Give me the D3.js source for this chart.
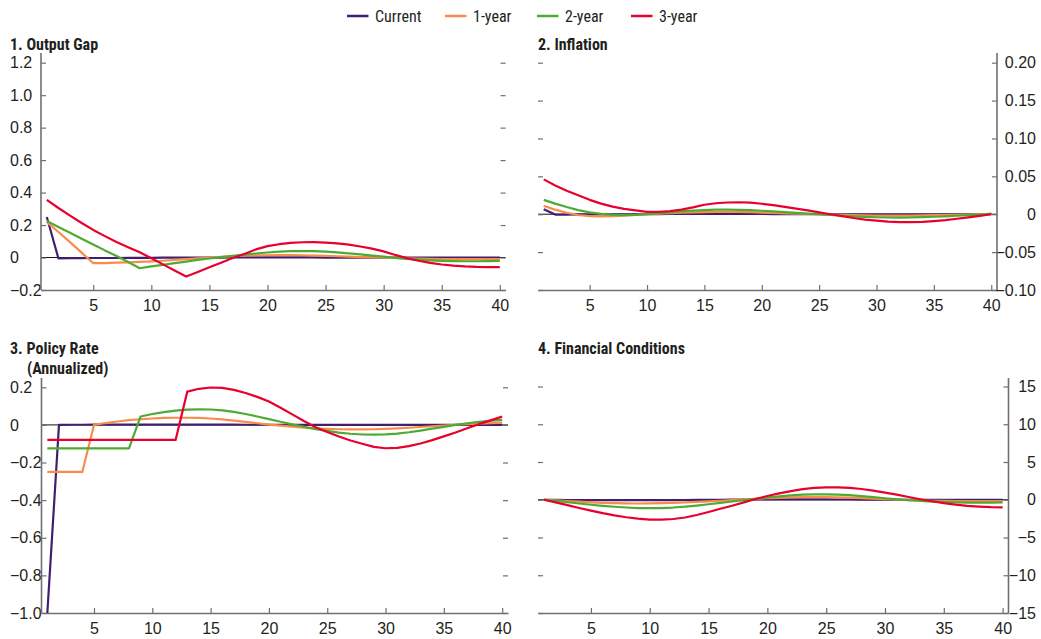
<!DOCTYPE html>
<html><head><meta charset="utf-8">
<script src="https://cdn.jsdelivr.net/npm/d3@7"></script>
<style>
body{margin:0;background:#fff;}
svg{display:block;font-family:"Liberation Sans Narrow","Arial Narrow","Roboto Condensed","Liberation Sans",Arial,sans-serif;}
</style></head><body>
<svg id="chart" width="1041" height="639"></svg>
<script>
// ---------- DATA ----------
const quarters = [1,2,3,4,5,6,7,8,9,10,11,12,13,14,15,16,17,18,19,20,
                  21,22,23,24,25,26,27,28,29,30,31,32,33,34,35,36,37,38,39,40];
const seriesNames = ["Current","1-year","2-year","3-year"];
const seriesColors = ["#40206e","#f98c4a","#4dab34","#e8002f"];
const xTickValues = [5,10,15,20,25,30,35,40];

// 1. Output Gap
const gapCurrent = [0.25,-0.005,-0.004,-0.004,-0.003,-0.003,-0.003,-0.002,-0.002,-0.002,
  -0.001,-0.001,-0.001,0,0,0,0.001,0.001,0.001,0.001,
  0.001,0.001,0.001,0.001,0,0,0,0,0,0,
  0,0,0,0,0,0,0,0,0,0];
const gap1y = [0.22,0.157,0.095,0.03,-0.035,-0.034,-0.032,-0.03,-0.027,-0.024,
  -0.02,-0.015,-0.01,-0.005,0,0.004,0.008,0.011,0.013,0.014,
  0.015,0.015,0.014,0.012,0.01,0.008,0.005,0.003,0.001,-0.001,
  -0.003,-0.005,-0.007,-0.008,-0.009,-0.01,-0.01,-0.01,-0.01,-0.01];
const gap2y = [0.225,0.188,0.152,0.116,0.08,0.044,0.01,-0.028,-0.066,-0.055,
  -0.045,-0.035,-0.025,-0.015,-0.006,0.003,0.011,0.018,0.025,0.031,
  0.036,0.039,0.04,0.039,0.036,0.032,0.026,0.019,0.012,0.005,
  -0.002,-0.008,-0.013,-0.017,-0.02,-0.022,-0.023,-0.023,-0.022,-0.021];
const gap3y = [0.355,0.305,0.258,0.213,0.17,0.132,0.096,0.064,0.032,-0.004,
  -0.042,-0.08,-0.117,-0.089,-0.06,-0.032,-0.003,0.022,0.05,0.07,
  0.082,0.09,0.094,0.095,0.092,0.087,0.079,0.068,0.055,0.038,
  0.016,-0.004,-0.02,-0.033,-0.043,-0.05,-0.055,-0.058,-0.059,-0.059];
const gapTicks = [-0.2,0,0.2,0.4,0.6,0.8,1.0,1.2];
const gapTickLabels = ["\u22120.2","0","0.2","0.4","0.6","0.8","1.0","1.2"];

// 2. Inflation
const infCurrent = [0.0065,-0.0005,-0.0004,-0.0003,-0.0002,-0.0001,0,0,0,0,
  0.0002,0.0003,0.0004,0.0005,0.0005,0.0005,0.0005,0.0004,0.0004,0.0003,
  0.0002,0.0001,0,0,0,-0.0001,-0.0001,-0.0002,-0.0002,-0.0002,
  -0.0002,-0.0002,-0.0002,-0.0001,-0.0001,-0.0001,0,0,0,0];
const inf1y = [0.011,0.006,0.002,-0.001,-0.0025,-0.0028,-0.0025,-0.0018,-0.001,0,
  0.0008,0.0015,0.002,0.0025,0.0028,0.003,0.003,0.003,0.0027,0.0022,
  0.0017,0.0012,0.0007,0.0003,0,-0.0004,-0.0008,-0.0012,-0.0015,-0.0017,
  -0.0018,-0.0018,-0.0017,-0.0015,-0.0013,-0.001,-0.0007,-0.0004,-0.0002,0];
const inf2y = [0.019,0.014,0.0095,0.0055,0.0025,0.0005,-0.0008,-0.0012,-0.001,0,
  0.001,0.0025,0.0038,0.0048,0.0055,0.006,0.006,0.0058,0.0053,0.0046,
  0.0038,0.0028,0.0018,0.0008,0,-0.001,-0.002,-0.0028,-0.0035,-0.004,
  -0.0043,-0.0044,-0.0042,-0.0038,-0.0033,-0.0027,-0.002,-0.0012,-0.0004,0.001];
const inf3y = [0.046,0.038,0.031,0.025,0.019,0.014,0.01,0.007,0.005,0.003,
  0.003,0.004,0.006,0.009,0.0125,0.0145,0.0155,0.0158,0.0152,0.0138,
  0.012,0.0098,0.0075,0.005,0.0025,0,-0.0025,-0.005,-0.007,-0.0085,
  -0.0097,-0.0103,-0.0105,-0.01,-0.009,-0.0077,-0.006,-0.0042,-0.0022,0];
const infTicks = [-0.10,-0.05,0,0.05,0.10,0.15,0.20];
const infTickLabels = ["\u22120.10","\u22120.05","0","0.05","0.10","0.15","0.20"];

// 3. Policy Rate (Annualized)
const rateCurrent = [-1.0,0,0.001,0.001,0.002,0.002,0.002,0.002,0.002,0.002,
  0.002,0.002,0.002,0.002,0.002,0.002,0.002,0.001,0.001,0.001,
  0.001,0,0,0,0,0,0,0,0,0,
  0,0,0,0,0,0,0,0,0,0];
const rate1y = [-0.25,-0.25,-0.25,-0.25,0,0.01,0.018,0.025,0.03,0.034,
  0.037,0.038,0.038,0.037,0.034,0.029,0.023,0.016,0.009,0.002,
  -0.004,-0.009,-0.014,-0.018,-0.021,-0.023,-0.024,-0.024,-0.023,-0.021,
  -0.018,-0.015,-0.011,-0.007,-0.003,0.001,0.004,0.007,0.01,0.012];
const rate2y = [-0.125,-0.125,-0.125,-0.125,-0.125,-0.125,-0.125,-0.125,0.045,0.058,
  0.068,0.076,0.081,0.083,0.082,0.077,0.069,0.058,0.045,0.031,
  0.017,0.003,-0.01,-0.022,-0.032,-0.041,-0.047,-0.051,-0.052,-0.05,
  -0.046,-0.039,-0.03,-0.02,-0.01,0,0.009,0.016,0.022,0.027];
const rate3y = [-0.08,-0.08,-0.08,-0.08,-0.08,-0.08,-0.08,-0.08,-0.08,-0.08,
  -0.08,-0.08,0.177,0.192,0.199,0.197,0.186,0.17,0.149,0.124,
  0.091,0.056,0.021,-0.012,-0.038,-0.062,-0.083,-0.1,-0.117,-0.124,
  -0.122,-0.113,-0.099,-0.081,-0.061,-0.04,-0.018,0.004,0.024,0.044];
const rateTicks = [-1.0,-0.8,-0.6,-0.4,-0.2,0,0.2];
const rateTickLabels = ["\u22121.0","\u22120.8","\u22120.6","\u22120.4","\u22120.2","0","0.2"];

// 4. Financial Conditions
const finCurrent = [0,-0.02,-0.03,-0.04,-0.05,-0.05,-0.05,-0.05,-0.05,-0.05,
  -0.05,-0.04,-0.03,-0.02,-0.01,0,0.01,0.02,0.03,0.03,
  0.04,0.04,0.04,0.04,0.04,0.03,0.03,0.02,0.01,0,
  -0.01,-0.01,-0.02,-0.02,-0.02,-0.02,-0.02,-0.02,-0.02,-0.02];
const fin1y = [0,-0.08,-0.17,-0.26,-0.34,-0.41,-0.46,-0.49,-0.5,-0.49,
  -0.46,-0.42,-0.36,-0.29,-0.21,-0.13,-0.04,0.04,0.12,0.2,
  0.26,0.31,0.34,0.35,0.34,0.31,0.27,0.21,0.15,0.08,
  0.02,-0.04,-0.09,-0.13,-0.16,-0.18,-0.19,-0.19,-0.19,-0.18];
const fin2y = [0,-0.15,-0.32,-0.5,-0.66,-0.8,-0.93,-1.03,-1.1,-1.12,
  -1.1,-1.03,-0.92,-0.77,-0.6,-0.42,-0.23,-0.05,0.13,0.3,
  0.45,0.58,0.67,0.72,0.72,0.68,0.6,0.48,0.35,0.2,
  0.06,-0.06,-0.16,-0.25,-0.31,-0.35,-0.37,-0.38,-0.37,-0.36];
const fin3y = [0,-0.35,-0.72,-1.1,-1.45,-1.78,-2.07,-2.32,-2.5,-2.62,
  -2.64,-2.55,-2.35,-2.02,-1.62,-1.2,-0.8,-0.35,0.1,0.5,
  0.85,1.15,1.4,1.57,1.65,1.65,1.57,1.42,1.2,0.95,
  0.67,0.37,0.07,-0.2,-0.45,-0.65,-0.8,-0.9,-0.97,-1.0];
const finTicks = [-15,-10,-5,0,5,10,15];
const finTickLabels = ["\u221215","\u221210","\u22125","0","5","10","15"];

// ---------- LAYOUT ----------
const panels = [
  {title:["1. Output Gap"], series:[gapCurrent,gap1y,gap2y,gap3y], domain:[-0.2,1.2],
   ticks:gapTicks, labels:gapTickLabels, side:"left",
   x0:41, x1:505.6, yBot:290, yTop:62.7, axisTop:53, titleX:10, titleY:49.5},
  {title:["2. Inflation"], series:[infCurrent,inf1y,inf2y,inf3y], domain:[-0.10,0.20],
   ticks:infTicks, labels:infTickLabels, side:"right",
   x0:538, x1:997, yBot:290, yTop:62.7, axisTop:53, titleX:538, titleY:49.5},
  {title:["3. Policy Rate","(Annualized)"], series:[rateCurrent,rate1y,rate2y,rate3y], domain:[-1.0,0.2],
   ticks:rateTicks, labels:rateTickLabels, side:"left",
   x0:41.5, x1:508, yBot:613, yTop:387.3, axisTop:378, titleX:10, titleY:354},
  {title:["4. Financial Conditions"], series:[finCurrent,fin1y,fin2y,fin3y], domain:[-15,15],
   ticks:finTicks, labels:finTickLabels, side:"right",
   x0:538, x1:1008.5, yBot:613, yTop:386.5, axisTop:378, titleX:538, titleY:354}
];

const svg = d3.select("#chart");
const axisColor = "#707070";
const textColor = "#231f20";

panels.forEach(p => {
  const x = d3.scaleLinear().domain([0.5, 40.5]).range([p.x0, p.x1]);
  const y = d3.scaleLinear().domain(p.domain).range([p.yBot, p.yTop]);
  const g = svg.append("g");

  // titles
  p.title.forEach((t, i) => {
    g.append("text").attr("x", i === 0 ? p.titleX : p.titleX + 17).attr("y", p.titleY + i * 19.5)
      .attr("font-size", 16).attr("font-weight", "bold").attr("fill", textColor).text(t);
  });

  // zero line
  g.append("line").attr("x1", p.x0).attr("x2", p.x1).attr("y1", y(0)).attr("y2", y(0))
    .attr("stroke", "#111").attr("stroke-width", 1);

  // x axis (ticks pointing up)
  const xa = g.append("g").attr("transform", `translate(0,${p.yBot})`)
    .call(d3.axisBottom(x).tickValues(xTickValues).tickSizeInner(-5).tickSizeOuter(0).tickPadding(10));
  xa.select(".domain").attr("stroke", axisColor).attr("stroke-width", 1.6);
  xa.selectAll(".tick line").attr("stroke", axisColor).attr("stroke-width", 1.2);
  xa.selectAll("text").attr("font-size", 16).attr("fill", textColor).attr("font-family", null);

  const labelAxisX = p.side === "left" ? p.x0 : p.x1;
  const mirrorX = p.side === "left" ? p.x1 : p.x0;
  const labelAxis = p.side === "left" ? d3.axisLeft(y) : d3.axisRight(y);
  const mirrorAxis = p.side === "left" ? d3.axisRight(y) : d3.axisLeft(y);

  // labelled y axis
  const ya = g.append("g").attr("transform", `translate(${labelAxisX},0)`)
    .call(labelAxis.tickValues(p.ticks).tickSizeInner(-5).tickSizeOuter(0)
      .tickFormat((d, i) => p.labels[i]));
  ya.select(".domain").remove();
  ya.selectAll(".tick line").attr("stroke", axisColor).attr("stroke-width", 1.2);
  ya.selectAll("text").attr("font-size", 16).attr("fill", textColor).attr("font-family", null);
  if (p.side === "left") {
    ya.selectAll("text").attr("x", 10 - labelAxisX).attr("text-anchor", "start");
  } else {
    ya.selectAll("text").attr("x", 1036 - labelAxisX).attr("text-anchor", "end");
  }
  // vertical axis line, extended above the top tick
  g.append("line").attr("x1", labelAxisX).attr("x2", labelAxisX)
    .attr("y1", p.axisTop).attr("y2", p.yBot).attr("stroke", axisColor).attr("stroke-width", 1.6);

  // mirrored ticks on the opposite side
  const ma = g.append("g").attr("transform", `translate(${mirrorX},0)`)
    .call(mirrorAxis.tickValues(p.ticks).tickSizeInner(-5).tickSizeOuter(0).tickFormat(""));
  ma.select(".domain").remove();
  ma.selectAll(".tick line").attr("stroke", axisColor).attr("stroke-width", 1.2);

  // series lines
  const line = d3.line().x((d, i) => x(quarters[i])).y(d => y(d));
  p.series.forEach((s, k) => {
    g.append("path").datum(s).attr("d", line).attr("fill", "none")
      .attr("stroke", seriesColors[k]).attr("stroke-width", 2.2)
      .attr("stroke-linejoin", "round");
  });
});

// legend
const legendX = [347, 445, 537, 631];
const lg = svg.append("g");
seriesNames.forEach((n, i) => {
  lg.append("line").attr("x1", legendX[i]).attr("x2", legendX[i] + 21.5).attr("y1", 16).attr("y2", 16)
    .attr("stroke", seriesColors[i]).attr("stroke-width", 2.5);
  lg.append("text").attr("x", legendX[i] + 28).attr("y", 21.5).attr("font-size", 16)
    .attr("fill", textColor).text(n);
});
</script>
</body></html>
